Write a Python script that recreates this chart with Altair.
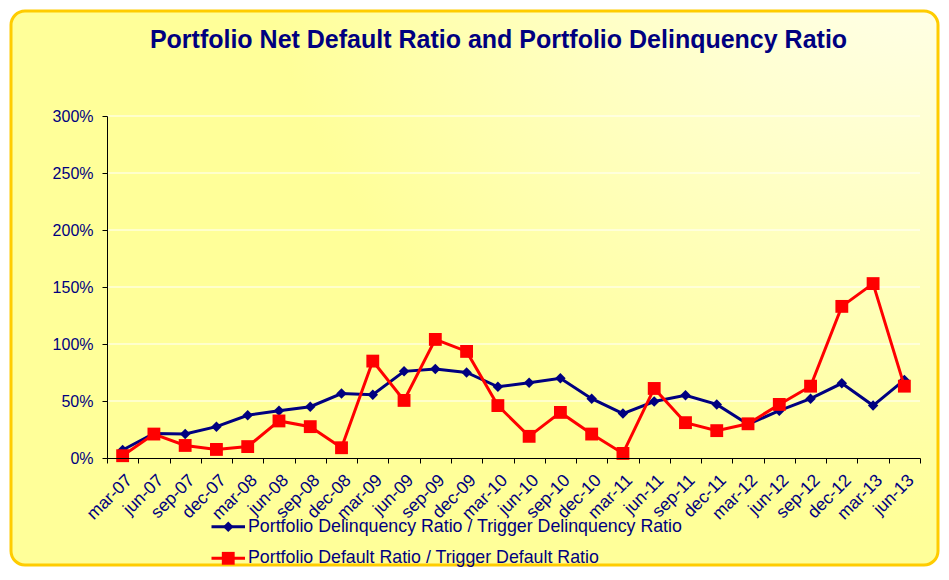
import altair as alt
import pandas as pd

quarters = ["mar-07", "jun-07", "sep-07", "dec-07", "mar-08", "jun-08", "sep-08", "dec-08",
            "mar-09", "jun-09", "sep-09", "dec-09", "mar-10", "jun-10", "sep-10", "dec-10",
            "mar-11", "jun-11", "sep-11", "dec-11", "mar-12", "jun-12", "sep-12", "dec-12",
            "mar-13", "jun-13"]
delinquency_pct = [7, 21.5, 21, 27.5, 37.5, 41.5, 45, 56.5, 55.5, 76, 78, 75, 62.5,
                   66, 70, 52, 39, 49.5, 55, 47, 29.5, 41.5, 52, 65.5, 46, 68.5]
default_pct = [2, 21, 11, 7.5, 10, 32.5, 27.5, 9, 85, 50.5, 104, 93.5, 46,
               19, 40, 21, 4, 61, 31, 24, 30, 47, 63, 133, 153, 63]
series_names = ["Portfolio Delinquency Ratio / Trigger Delinquency Ratio",
                "Portfolio Default Ratio / Trigger Default Ratio"]
series_colors = ["#000080", "#FF0000"]
y_ticks = [0, 0.5, 1, 1.5, 2, 2.5, 3]
title_text = "Portfolio Net Default Ratio and Portfolio Delinquency Ratio"

rows = []
for name, vals in zip(series_names, [delinquency_pct, default_pct]):
    for q, v in zip(quarters, vals):
        rows.append({"quarter": q, "ratio": v / 100.0, "series": name})
df = pd.DataFrame(rows)
grid_df = pd.DataFrame({"ratio": y_ticks[1:]})

W, H = 813, 342
PAD = {"left": 99, "top": 108, "right": 21, "bottom": 110}
NAVY = "#000080"
FONT = "Liberation Sans"

x = alt.X("quarter:N", sort=quarters,
          scale=alt.Scale(type="band", paddingInner=0, paddingOuter=0),
          axis=alt.Axis(title=None, labelAngle=-45, labelFont=FONT, labelFontSize=17.5,
                        labelColor=NAVY, domainColor="black", tickColor="black",
                        tickSize=5, tickBand="extent", grid=False, labelPadding=8, zindex=1))
y_scale = alt.Scale(domain=[0, 3], nice=False)
y_axis = alt.Axis(title=None, values=y_ticks, format=".0%", labelFont=FONT,
                  labelFontSize=16, labelColor=NAVY, domainColor="black",
                  tickColor="black", tickSize=5, labelPadding=9, grid=False, zindex=1)
y = alt.Y("ratio:Q", scale=y_scale, axis=y_axis)

color_scale = alt.Scale(domain=series_names, range=series_colors)
color = alt.Color("series:N", scale=color_scale, legend=None)

# chart-area background with rounded gold border
bg = alt.Chart(pd.DataFrame({"k": [0]})).mark_rect(
    fill={"gradient": "radial", "x1": 1, "y1": 0, "x2": 1, "y2": 0, "r1": 0, "r2": 0.75,
          "stops": [{"offset": 0, "color": "#FFFFFF"}, {"offset": 1, "color": "#FFFF99"}]},
    stroke="#FFCC00", strokeWidth=3, cornerRadius=14, clip=False,
).encode(x=alt.value(-96), x2=alt.value(W + 18), y=alt.value(-105), y2=alt.value(H + 107))

# white horizontal gridlines (behind the series)
grid = alt.Chart(grid_df).mark_rule(color="white", strokeWidth=1).encode(
    y=alt.Y("ratio:Q", scale=y_scale, axis=y_axis),
    x=alt.value(0), x2=alt.value(W),
)

layers = [bg, grid]
shapes = ["diamond", "square"]
sizes = [110, 165]
for name, shp, sz in zip(series_names, shapes, sizes):
    base = alt.Chart(df).transform_filter(alt.datum.series == name).encode(x=x, y=y, color=color)
    layers.append(base.mark_line(strokeWidth=3))
    layers.append(base.mark_point(shape=shp, filled=True, size=sz, opacity=1))

# legend below the axis: line stub + marker + label for each series
leg_df = pd.DataFrame({"series": series_names})
LEG_X0, LEG_X1, LEG_TX = 104.5, 138, 141
LEG_Y = [410.7, 442.3]
for i, (name, shp, sz, col) in enumerate(zip(series_names, shapes, sizes, series_colors)):
    one = alt.Chart(leg_df).transform_filter(alt.datum.series == name)
    layers.append(one.mark_rule(color=col, strokeWidth=3).encode(
        x=alt.value(LEG_X0), x2=alt.value(LEG_X1), y=alt.value(LEG_Y[i])))
    layers.append(one.mark_point(shape=shp, filled=True, size=sz, opacity=1, color=col).encode(
        x=alt.value((LEG_X0 + LEG_X1) / 2), y=alt.value(LEG_Y[i])))
    layers.append(one.mark_text(align="left", baseline="middle", font=FONT, fontSize=17.8,
                                color=NAVY).encode(
        x=alt.value(LEG_TX), y=alt.value(LEG_Y[i]), text=alt.Text("series:N")))

chart = alt.layer(*layers).properties(
    width=W, height=H,
    title=alt.TitleParams(title_text, fontSize=25, fontWeight="bold", color=NAVY, font=FONT,
                          anchor="middle", frame="group", dx=-15, offset=-43, zindex=1),
    autosize=alt.AutoSizeParams(type="none"),
    padding=PAD,
    background="white",
).configure_view(strokeWidth=0)

chart.save("out.html", embed_options={"renderer": "svg", "actions": False})
